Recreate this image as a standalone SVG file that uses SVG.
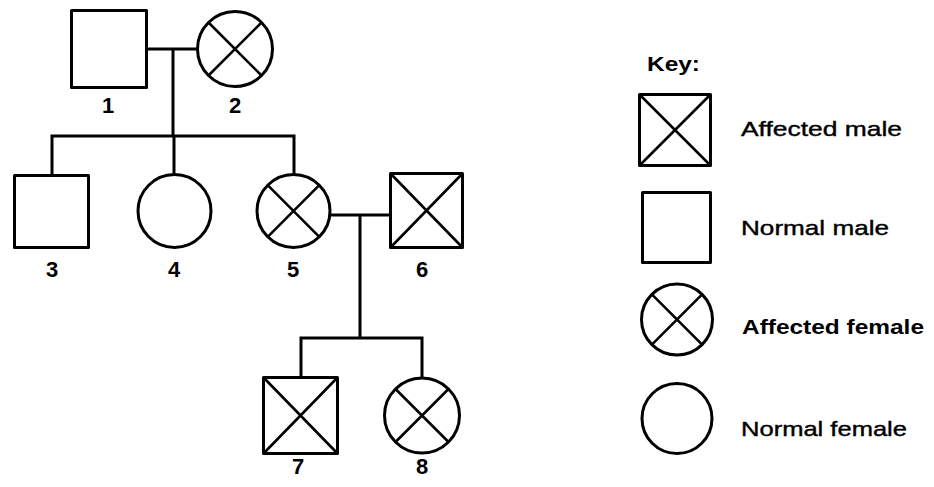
<svg xmlns="http://www.w3.org/2000/svg" width="934" height="487" viewBox="0 0 934 487">
<style>
.sh{fill:#fff;stroke:#000;stroke-width:3;stroke-linejoin:round}
.x{stroke:#000;stroke-width:2.6;fill:none}
.ln{stroke:#000;stroke-width:3;fill:none;stroke-linecap:square}
.num{font-family:"Liberation Sans",Arial,sans-serif;font-weight:bold;font-size:22px;text-anchor:middle;fill:#000}
.key{font-family:"Liberation Sans",Arial,sans-serif;font-size:21px;fill:#000;stroke:#000;stroke-width:0.4}
.keyb{font-family:"Liberation Sans",Arial,sans-serif;font-size:21px;font-weight:bold;fill:#000}
</style>
<rect width="934" height="487" fill="#fff"/>
<g id="connectors">
<path class="ln" d="M148 49H197M173 49V136M52 136H294M52 136V174M174 136V173M294 136V174"/>
<path class="ln" d="M331 215H390M360 215V338M301 338H422M301 338V377M422 338V377"/>
</g>
<g id="n1"><rect class="sh" x="71.5" y="10.5" width="75" height="77"/><text class="num" x="108" y="113">1</text></g>
<g id="n2"><circle class="sh" cx="235" cy="49" r="37.5"/><path class="x" d="M208.5 22.5L261.5 75.5M261.5 22.5L208.5 75.5"/><text class="num" x="235" y="113">2</text></g>
<g id="n3"><rect class="sh" x="14.5" y="175.5" width="74" height="72"/><text class="num" x="52" y="277">3</text></g>
<g id="n4"><circle class="sh" cx="174.5" cy="211" r="36.5"/><text class="num" x="174" y="277">4</text></g>
<g id="n5"><circle class="sh" cx="293.5" cy="211" r="36.5"/><path class="x" d="M267.7 185.2L319.3 236.8M319.3 185.2L267.7 236.8"/><text class="num" x="293" y="277">5</text></g>
<g id="n6"><rect class="sh" x="390.5" y="173.5" width="72" height="74"/><path class="x" d="M390.5 173.5L462.5 247.5M462.5 173.5L390.5 247.5"/><text class="num" x="422" y="277">6</text></g>
<g id="n7"><rect class="sh" x="263.5" y="377.5" width="74" height="76"/><path class="x" d="M263.5 377.5L337.5 453.5M337.5 377.5L263.5 453.5"/><text class="num" x="298" y="474">7</text></g>
<g id="n8"><circle class="sh" cx="422" cy="415.5" r="37.5"/><path class="x" d="M395.5 389L448.5 442M448.5 389L395.5 442"/><text class="num" x="422" y="474">8</text></g>
<g id="key">
<text class="keyb" x="647" y="71" textLength="53" lengthAdjust="spacingAndGlyphs">Key:</text>
<rect class="sh" x="639.5" y="94.5" width="71" height="71"/><path class="x" d="M639.5 94.5L710.5 165.5M710.5 94.5L639.5 165.5"/>
<text class="key" x="741" y="136" textLength="161" lengthAdjust="spacingAndGlyphs">Affected male</text>
<rect class="sh" x="642.5" y="192.5" width="68" height="70"/>
<text class="key" x="741" y="235" textLength="148" lengthAdjust="spacingAndGlyphs">Normal male</text>
<circle class="sh" cx="677" cy="319.5" r="35.5"/><path class="x" d="M651.9 294.4L702.1 344.6M702.1 294.4L651.9 344.6"/>
<text class="keyb" x="742" y="334" textLength="182" lengthAdjust="spacingAndGlyphs">Affected female</text>
<circle class="sh" cx="677" cy="418.5" r="35"/>
<text class="key" x="741" y="436" textLength="166" lengthAdjust="spacingAndGlyphs">Normal female</text>
</g>
</svg>
